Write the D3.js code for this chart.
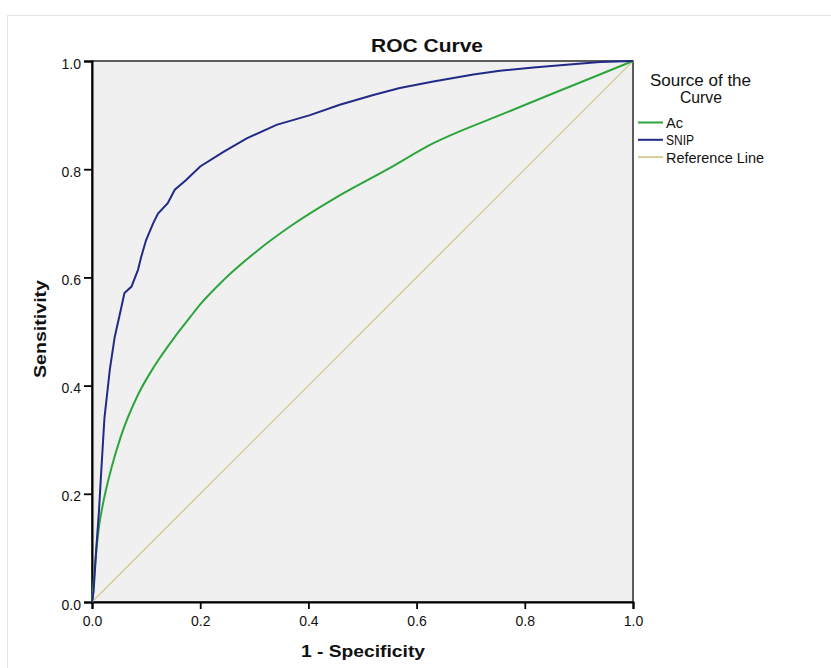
<!DOCTYPE html>
<html>
<head>
<meta charset="utf-8">
<script src="https://cdn.jsdelivr.net/npm/d3@7"></script>
<style>
  body { margin: 0; background: #fff; }
  svg text { font-family: "Liberation Sans", Arial, sans-serif; fill: #111; }
</style>
</head>
<body>
<div id="chart"></div>
<script>
// 1 - specificity / sensitivity pairs
const acPoints = [
  [0, 0], [0.004, 0.05], [0.008, 0.095], [0.013, 0.14], [0.02, 0.18], [0.036, 0.248], [0.054, 0.308],
  [0.085, 0.383], [0.116, 0.437], [0.153, 0.49], [0.181, 0.526], [0.2, 0.55],
  [0.243, 0.595], [0.304, 0.648], [0.366, 0.694], [0.45, 0.747], [0.545, 0.799],
  [0.631, 0.848], [0.754, 0.9], [0.877, 0.95], [1, 1]
];
const snipPoints = [
  [0, 0], [0.003, 0.02], [0.008, 0.1], [0.013, 0.17], [0.017, 0.24],
  [0.023, 0.34], [0.033, 0.43], [0.042, 0.49], [0.051, 0.53], [0.06, 0.571],
  [0.073, 0.583], [0.085, 0.614], [0.091, 0.638], [0.1, 0.669], [0.113, 0.7],
  [0.122, 0.718], [0.14, 0.737], [0.153, 0.762], [0.174, 0.78], [0.2, 0.805],
  [0.243, 0.832], [0.286, 0.857], [0.341, 0.882], [0.403, 0.9], [0.458, 0.919],
  [0.52, 0.937], [0.569, 0.95], [0.631, 0.962], [0.705, 0.975], [0.754, 0.982],
  [0.816, 0.988], [0.877, 0.993], [0.939, 0.998], [1, 1]
];
const refPoints = [[0, 0], [1, 1]];
const tickValues = [0, 0.2, 0.4, 0.6, 0.8, 1.0];
const legendItems = [
  { name: "Ac", color: "#2ca53c", len: 17 },
  { name: "SNIP", color: "#212b87", len: 28 },
  { name: "Reference Line", color: "#d5cd9b", len: 98 }
];

const margin = { top: 61, left: 92 },
  width = 541,
  height = 541;

const root = d3.select("#chart").append("svg")
  .attr("width", 831)
  .attr("height", 668);

// faint outer frame of the output panel
root.append("rect")
  .attr("x", 7.5).attr("y", 15.5)
  .attr("width", 840).attr("height", 700)
  .attr("fill", "none")
  .attr("stroke", "#e4e4e4");

const svg = root.append("g")
  .attr("transform", `translate(${margin.left}, ${margin.top})`);

const x = d3.scaleLinear().domain([0, 1]).range([0, width]);
const y = d3.scaleLinear().domain([0, 1]).range([height, 0]);

svg.append("rect")
  .attr("width", width)
  .attr("height", height)
  .attr("fill", "#f0f0f0")
  .attr("stroke", "#2a2a2a")
  .attr("stroke-width", 1.5);

// axes
const xAxis = svg.append("g")
  .attr("transform", `translate(0, ${height})`)
  .call(d3.axisBottom(x).tickValues(tickValues).tickFormat(d3.format(".1f")).tickSize(7).tickPadding(7));
const yAxis = svg.append("g")
  .call(d3.axisLeft(y).tickValues(tickValues).tickFormat(d3.format(".1f")).tickSize(8).tickPadding(3));

[xAxis, yAxis].forEach((a) => {
  a.select(".domain").attr("stroke", "#000").attr("stroke-width", 2);
  a.selectAll(".tick line").attr("stroke", "#000").attr("stroke-width", 1.8);
  a.selectAll(".tick text")
    .attr("font-size", "14px")
    .attr("fill", "#222");
});
yAxis.selectAll(".tick text").attr("dy", "0.5em");

const line = d3.line()
  .x((d) => x(d[0]))
  .y((d) => y(d[1]));

// reference diagonal, then Ac, then SNIP on top
svg.append("path")
  .datum(refPoints)
  .attr("d", line)
  .attr("fill", "none")
  .attr("stroke", legendItems[2].color)
  .attr("stroke-width", 1.5);

svg.append("path")
  .datum(acPoints)
  .attr("d", line.curve(d3.curveMonotoneX))
  .attr("fill", "none")
  .attr("stroke", legendItems[0].color)
  .attr("stroke-width", 2);

svg.append("path")
  .datum(snipPoints)
  .attr("d", line.curve(d3.curveLinear))
  .attr("fill", "none")
  .attr("stroke", legendItems[1].color)
  .attr("stroke-width", 2);

// titles
root.append("text")
  .attr("x", 427).attr("y", 52)
  .attr("text-anchor", "middle")
  .attr("font-size", "19px")
  .attr("font-weight", "bold")
  .attr("textLength", 112)
  .attr("lengthAdjust", "spacingAndGlyphs")
  .text("ROC Curve");

root.append("text")
  .attr("x", 363).attr("y", 657)
  .attr("text-anchor", "middle")
  .attr("font-size", "16px")
  .attr("font-weight", "bold")
  .attr("textLength", 124)
  .attr("lengthAdjust", "spacingAndGlyphs")
  .text("1 - Specificity");

root.append("text")
  .attr("transform", "translate(46, 329) rotate(-90)")
  .attr("text-anchor", "middle")
  .attr("font-size", "16px")
  .attr("font-weight", "bold")
  .attr("textLength", 98)
  .attr("lengthAdjust", "spacingAndGlyphs")
  .text("Sensitivity");

// legend
const legend = root.append("g").attr("transform", "translate(638, 0)");
legend.append("text")
  .attr("x", 62.5).attr("y", 85.5)
  .attr("text-anchor", "middle")
  .attr("font-size", "16px")
  .attr("textLength", 101)
  .attr("lengthAdjust", "spacingAndGlyphs")
  .text("Source of the");
legend.append("text")
  .attr("x", 63).attr("y", 102.5)
  .attr("text-anchor", "middle")
  .attr("font-size", "16px")
  .attr("textLength", 42)
  .attr("lengthAdjust", "spacingAndGlyphs")
  .text("Curve");

const items = legend.selectAll("g.item")
  .data(legendItems)
  .join("g")
  .attr("class", "item")
  .attr("transform", (d, i) => `translate(0, ${122.5 + i * 17.3})`);
items.append("line")
  .attr("x1", 0).attr("x2", 25)
  .attr("stroke", (d) => d.color)
  .attr("stroke-width", 2);
items.append("text")
  .attr("x", 28).attr("dy", "0.4em")
  .attr("font-size", "14px")
  .attr("textLength", (d) => d.len)
  .attr("lengthAdjust", "spacingAndGlyphs")
  .text((d) => d.name);
</script>
</body>
</html>
